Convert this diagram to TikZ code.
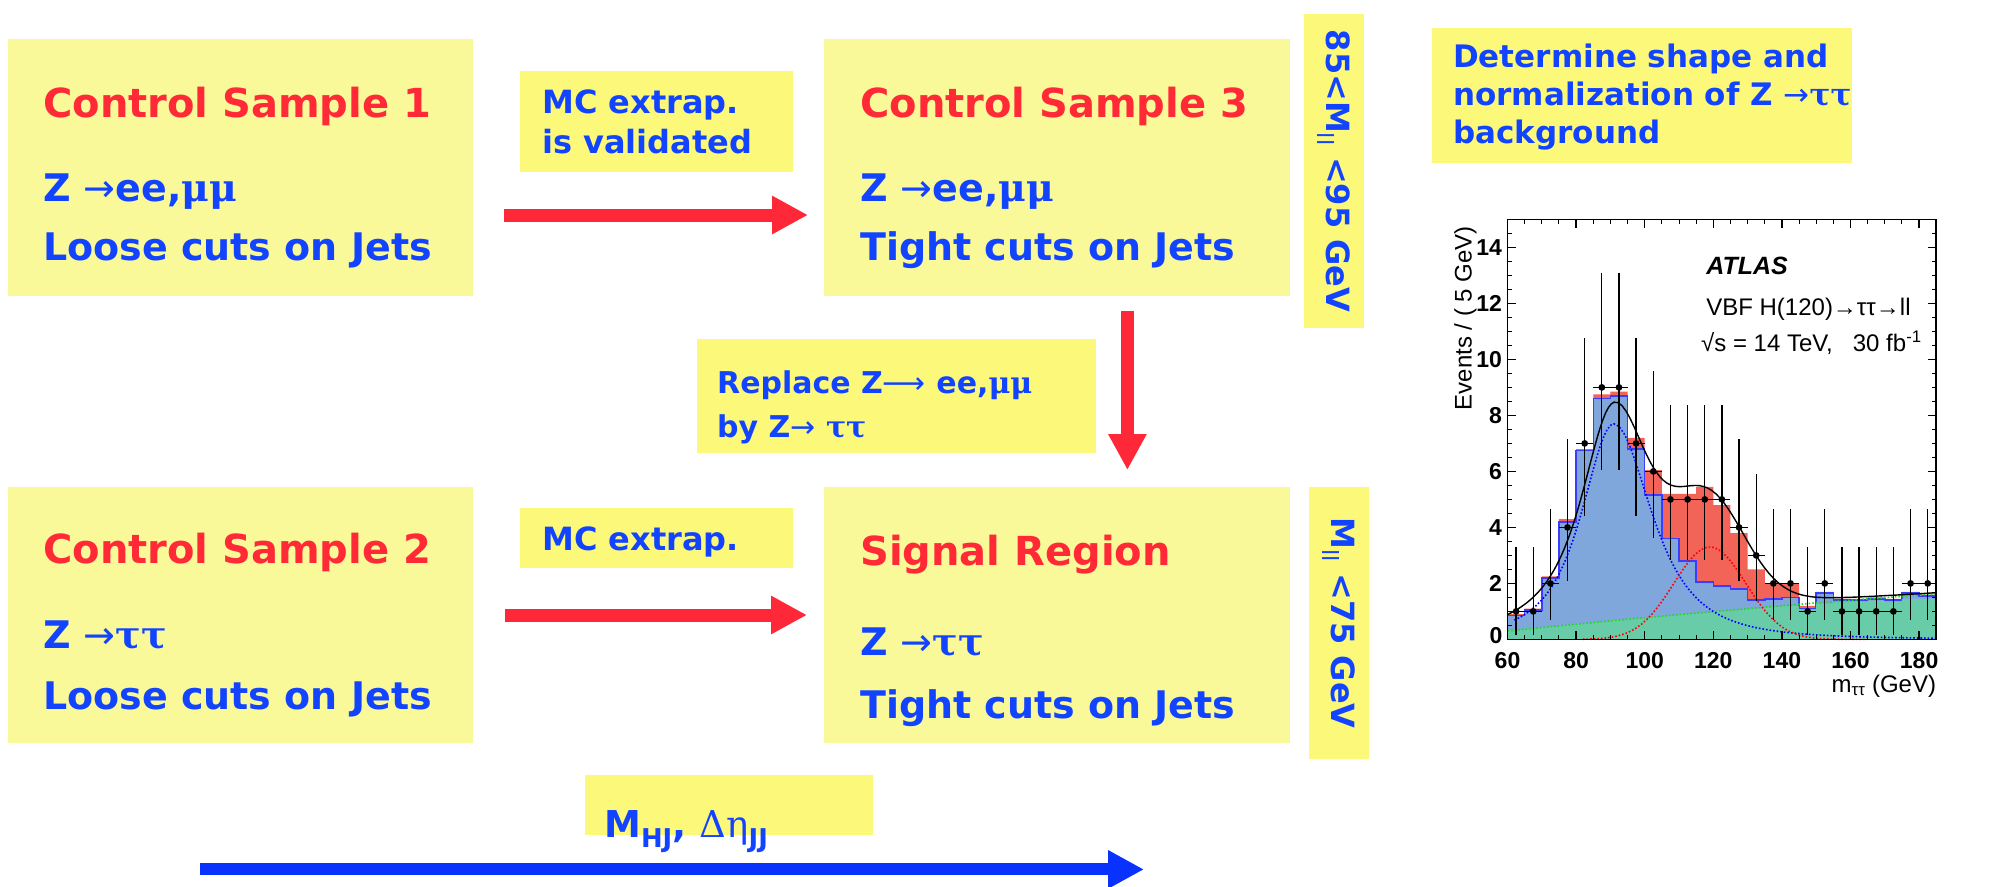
\documentclass[tikz,border=0pt]{standalone}
\usepackage{fontspec}
\setmainfont{DejaVu Sans}
\newfontfamily\serifgr{DejaVu Serif}
\newfontfamily\plotfont{Liberation Sans}
\usetikzlibrary{arrows.meta,calc}
\definecolor{boxbig}{RGB}{249,249,154}
\definecolor{boxsmall}{RGB}{252,249,122}
\definecolor{redtxt}{RGB}{255,42,53}
\definecolor{bluetxt}{RGB}{18,68,255}
\definecolor{redarr}{RGB}{255,40,56}
\definecolor{bluearr}{RGB}{10,50,255}
\definecolor{hred}{RGB}{242,99,88}
\definecolor{hblue}{RGB}{127,167,220}
\definecolor{hgreen}{RGB}{104,204,168}
\definecolor{hblueline}{RGB}{60,60,255}
\definecolor{hgreenline}{RGB}{30,220,30}
\tikzset{
  bigbox/.style={fill=boxbig, inner sep=0pt, anchor=north west},
  smallbox/.style={fill=boxsmall, inner sep=0pt, anchor=north west},
  ttl/.style={text=redtxt, font=\bfseries\fontsize{40}{48}\selectfont, anchor=base west, inner sep=0pt},
  bdy/.style={text=bluetxt, font=\bfseries\fontsize{38}{46}\selectfont, anchor=base west, inner sep=0pt},
  lbl/.style={text=bluetxt, font=\bfseries\fontsize{32}{40}\selectfont, anchor=base west, inner sep=0pt},
  vlbl/.style={fill=boxsmall, inner sep=0pt, rotate=-90, minimum height=60pt, text=bluetxt, font=\bfseries\fontsize{32}{40}\selectfont},
  fatarrow/.style={line width=13pt, -{Triangle[length=36pt,width=36pt]}},
  plbl/.style={font=\plotfont\bfseries\fontsize{23}{27}\selectfont, inner sep=0pt},
  ptxt/.style={font=\plotfont\fontsize{24}{28}\selectfont, inner sep=0pt},
  dotline/.style={line width=1.6pt, dash pattern=on 1.6pt off 2pt},
  declare function={
    gb(\t)=0.3+0.0125*(\t-60)-0.00002*(\t-60)*(\t-60);
    sg(\t)=3.3*exp(-((\t-119)*(\t-119))/220.5);
    zl(\t)=7.7/((1+((\t-91)/14.5)*((\t-91)/14.5))*sqrt(1+((\t-91)/14.5)*((\t-91)/14.5)));
    zr(\t)=7.7/((1+((\t-91)/17)*((\t-91)/17))*sqrt(1+((\t-91)/17)*((\t-91)/17)));
  }
}
\newcommand{\thinarr}{{\mdseries →}}
\newcommand{\mumu}{{\serifgr\bfseries μμ}}
\newcommand{\tautau}{{\serifgr\bfseries ττ}}
\begin{document}
\begin{tikzpicture}[x=1pt, y=-1pt]
\useasboundingbox (0,0) rectangle (1993,886);
\clip (0,0) rectangle (1993,886);

% main boxes
\node[bigbox, minimum width=465pt, minimum height=257pt] (cs1) at (8,39) {};
\node[bigbox, minimum width=466pt, minimum height=257pt] (cs3) at (824,39) {};
\node[bigbox, minimum width=465pt, minimum height=256pt] (cs2) at (8,487) {};
\node[bigbox, minimum width=466pt, minimum height=256pt] (sr) at (824,487) {};

\node[ttl] (cs1t) at (43,117) {Control Sample 1};
\node[bdy] (cs1a) at (43,201) {Z \thinarr ee,\mumu};
\node[bdy] (cs1b) at (43,260) {Loose cuts on Jets};

\node[ttl] (cs3t) at (860,117) {Control Sample 3};
\node[bdy] (cs3a) at (860,201) {Z \thinarr ee,\mumu};
\node[bdy] (cs3b) at (860,260) {Tight cuts on Jets};

\node[ttl] (cs2t) at (43,563) {Control Sample 2};
\node[bdy] (cs2a) at (43,648) {Z \thinarr\tautau};
\node[bdy] (cs2b) at (43,709) {Loose cuts on Jets};

\node[ttl] (srt) at (860,565) {Signal Region};
\node[bdy] (sra) at (860,655) {Z \thinarr\tautau};
\node[bdy] (srb) at (860,718) {Tight cuts on Jets};

% label boxes
\node[smallbox, minimum width=273pt, minimum height=101pt] (mc1) at (520,71) {};
\node[lbl] (mc1a) at (542,113) {MC extrap.};
\node[lbl] (mc1b) at (542,153) {is validated};

\node[smallbox, minimum width=273pt, minimum height=60pt] (mc2) at (520,508) {};
\node[lbl] (mc2a) at (542,550) {MC extrap.};

\node[smallbox, minimum width=399pt, minimum height=114pt] (repl) at (697,339) {};
\node[lbl, font=\bfseries\fontsize{30}{36}\selectfont] (repla) at (717,393) {Replace Z{\mdseries ⟶} ee,{\serifgr μμ}};
\node[lbl, font=\bfseries\fontsize{30}{36}\selectfont] (replb) at (717,437) {by Z{\mdseries →} {\serifgr ττ}};

\node[smallbox, minimum width=420pt, minimum height=135pt] (det) at (1432,28) {};
\node[lbl, font=\bfseries\fontsize{31}{38}\selectfont] (deta) at (1453,67) {Determine shape and};
\node[lbl, font=\bfseries\fontsize{31}{38}\selectfont] (detb) at (1453,105) {normalization of Z \thinarr\tautau};
\node[lbl, font=\bfseries\fontsize{31}{38}\selectfont] (detc) at (1453,143) {background};

\node[smallbox, minimum width=288pt, minimum height=60pt] (mhj) at (585,775) {};
\node[lbl, font=\bfseries\fontsize{37}{44}\selectfont] (mhjt) at (604,837) {M\textsubscript{HJ}, {\serifgr\mdseries Δη}\textsubscript{JJ}};

\node[vlbl, minimum width=314pt] (v1) at (1334,171) {85<M\textsubscript{\mdseries ll} <95 GeV};
\node[vlbl, minimum width=272pt] (v2) at (1339,623) {M\textsubscript{\mdseries ll} <75 GeV};

% arrows
\draw[fatarrow, redarr] ($(cs1.north east)+(31,176)$) -- ($(cs3.north west)+(-16,176)$);
\draw[fatarrow, redarr] ($(cs2.north east)+(32,128)$) -- ($(sr.north west)+(-17,128)$);
\draw[fatarrow, redarr] ($(cs3.south east)+(-163,15)$) -- ($(sr.north east)+(-163,-17)$);
\draw[line width=12pt, bluearr, -{Triangle[length=36pt,width=36pt]}] ($(cs2.south west)+(192,126)$) -- ($(sr.south west)+(320,126)$);

% plot
\begin{scope}[xshift=1301.7pt, yshift=-639.4pt, x=3.43pt, y=28pt]
  \fill[hred] (60,0) \foreach \a/\h in {60/0.9,65/1.1,70/2.25,75/4.3,80/6.8,85/8.75,90/8.85,95/7.2,100/6.05,105/5.2,110/5.2,115/5.45,120/4.8,125/3.8,130/2.5,135/2.0,140/2.0,145/1.2,150/1.7,155/1.45,160/1.45,165/1.5,170/1.45,175/1.7,180/1.6} {-- (\a,\h) -- (\a+5,\h)} -- (185,0) -- cycle;
  \fill[hblue] (60,0) \foreach \a/\h in {60/0.85,65/1.05,70/2.2,75/4.2,80/6.75,85/8.6,90/8.7,95/6.8,100/5.15,105/3.6,110/2.8,115/2.05,120/1.9,125/1.8,130/1.4,135/1.45,140/1.5,145/1.1,150/1.65,155/1.4,160/1.4,165/1.45,170/1.4,175/1.65,180/1.55} {-- (\a,\h) -- (\a+5,\h)} -- (185,0) -- cycle;
  \draw[hblueline, line width=1.5pt] (60,0) \foreach \a/\h in {60/0.85,65/1.05,70/2.2,75/4.2,80/6.75,85/8.6,90/8.7,95/6.8,100/5.15,105/3.6,110/2.8,115/2.05,120/1.9,125/1.8,130/1.4,135/1.45,140/1.5,145/1.1,150/1.65,155/1.4,160/1.4,165/1.45,170/1.4,175/1.65,180/1.55} {-- (\a,\h) -- (\a+5,\h)} -- (185,0);
  \fill[hgreen] (60,0) \foreach \a/\h in {60/0.33,65/0.39,70/0.45,75/0.51,80/0.57,85/0.63,90/0.69,95/0.74,100/0.8,105/0.85,110/0.9,115/0.95,120/1.0,125/1.05,130/1.1,135/1.15,140/1.19,145/1.05,150/1.28,155/1.33,160/1.35,165/1.38,170/1.35,175/1.45,180/1.45} {-- (\a,\h) -- (\a+5,\h)} -- (185,0) -- cycle;
  % curves
  \draw[hgreenline, dotline] plot[domain=60:185, samples=60] (\x,{gb(\x)});
  \draw[blue, dotline] plot[domain=62:91, samples=30] (\x,{zl(\x)}) -- plot[domain=91:185, samples=60] (\x,{zr(\x)});
  \draw[red, dotline] plot[domain=82:165, samples=60] (\x,{sg(\x)});
  \draw[black, line width=1.4pt] plot[domain=60:91, samples=40] (\x,{gb(\x)+zl(\x)+sg(\x)}) -- plot[domain=91:185, samples=80] (\x,{gb(\x)+zr(\x)+sg(\x)});
  % data
  \foreach \c/\n/\l/\h in {62.5/1/0.17/3.3, 67.5/1/0.17/3.3, 72.5/2/0.71/4.64, 77.5/4/2.09/7.16, 82.5/7/4.42/10.77, 87.5/9/6.06/13.1, 92.5/9/6.06/13.1, 97.5/7/4.42/10.77, 102.5/6/3.62/9.58, 107.5/5/2.84/8.38, 112.5/5/2.84/8.38, 117.5/5/2.84/8.38, 122.5/5/2.84/8.38, 127.5/4/2.09/7.16, 132.5/3/1.37/5.92, 137.5/2/0.71/4.64, 142.5/2/0.71/4.64, 147.5/1/0.17/3.3, 152.5/2/0.71/4.64, 157.5/1/0.17/3.3, 162.5/1/0.17/3.3, 167.5/1/0.17/3.3, 172.5/1/0.17/3.3, 177.5/2/0.71/4.64, 182.5/2/0.71/4.64}
  { \draw[line width=1.3pt] (\c,\l) -- (\c,\h) (\c-2.5,\n) -- (\c+2.5,\n); \fill (\c,\n) circle[radius=3.4pt]; }
  % frame and ticks
  \draw[line width=1.6pt] (60,0) rectangle (185,15);
  \foreach \v in {60,65,...,185} {\draw[line width=1pt] (\v,0) -- (\v,0.15) (\v,15) -- (\v,14.85);}
  \foreach \v in {60,80,...,180} {\draw[line width=1.3pt] (\v,0) -- (\v,0.3) (\v,15) -- (\v,14.7);}
  \foreach \v in {0,0.5,...,15} {\draw[line width=1pt] (60,\v) -- (61.2,\v) (185,\v) -- (183.8,\v);}
  \foreach \v in {0,2,...,14} {\draw[line width=1.3pt] (60,\v) -- (62.4,\v) (185,\v) -- (182.6,\v);}
  \foreach \v in {60,80,...,180} {\node[plbl, anchor=north] (xl\v) at (\v,-0.45) {\v};}
  \foreach \v in {2,4,...,14} {\node[plbl, anchor=east] (yl\v) at (58.4,\v) {\v};}
  \node[plbl, anchor=east] (yl0) at (58.6,0.12) {0};
  \node[ptxt, anchor=east] (mtt) at (185,-1.66) {m\textsubscript{ττ} (GeV)};
  \node[ptxt, rotate=90] (evt) at (47.7,11.47) {Events / ( 5 GeV)};
  \node[ptxt, font=\plotfont\bfseries\itshape\fontsize{25}{30}\selectfont, anchor=base west] (atlas) at (117.9,13.04) {ATLAS};
  \node[ptxt, anchor=base west] (vbf) at (117.9,11.56) {VBF H(120)→ττ→ll};
  \node[ptxt, anchor=base west] (sqs) at (116.4,10.27) {√s = 14 TeV,\ \ \ 30 fb\textsuperscript{-1}};
\end{scope}
\end{tikzpicture}
\end{document}
